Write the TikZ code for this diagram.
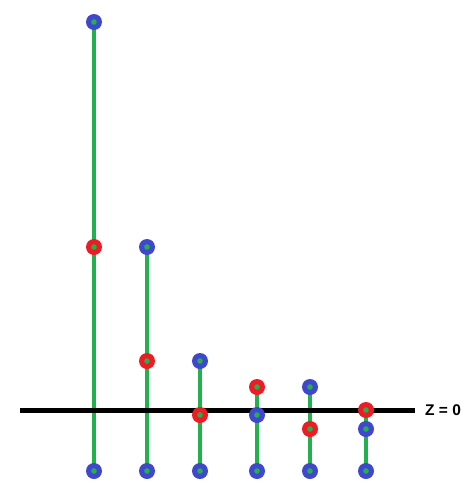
\documentclass[tikz,border=0pt]{standalone}
\usepackage{fontspec}
\setmainfont{Liberation Sans}
\definecolor{pblue}{RGB}{63,72,204}
\definecolor{pred}{RGB}{237,28,36}
\definecolor{pgreen}{RGB}{34,177,76}
\tikzset{
  stem/.style={draw=pgreen, line width=4.5pt},
  axisline/.style={draw=black, line width=5pt},
  bdot/.style={circle, fill=pblue, minimum size=16pt, inner sep=0pt, path picture={\fill[pgreen] (path picture bounding box.center) circle (2.8pt);}},
  rdot/.style={circle, fill=pred, minimum size=16pt, inner sep=0pt, path picture={\fill[pgreen] (path picture bounding box.center) circle (2.8pt);}},
}
\begin{document}
\begin{tikzpicture}[x=1pt,y=-1pt]
\useasboundingbox (0,0) rectangle (475,490);
% positions
\coordinate (a1) at (94,22);  \coordinate (a2) at (94,247);  \coordinate (a3) at (94,471);
\coordinate (b1) at (147,247); \coordinate (b2) at (147,361); \coordinate (b3) at (147,471);
\coordinate (c1) at (200,361); \coordinate (c2) at (200,415); \coordinate (c3) at (200,471);
\coordinate (d1) at (257,387); \coordinate (d2) at (257,415); \coordinate (d3) at (257,471);
\coordinate (e1) at (310,387); \coordinate (e2) at (310,429); \coordinate (e3) at (310,471);
\coordinate (f1) at (366,410); \coordinate (f2) at (366,429); \coordinate (f3) at (366,471);
% stems
\foreach \c in {a,b,c,d,e,f} { \draw[stem] (\c1) -- (\c3); }
% axis
\coordinate (L) at (20,410);
\node[font=\bfseries, inner sep=0pt, anchor=west] (zlab) at (425,410) {\fontsize{15.5}{17}\selectfont Z = 0};
\draw[axisline] (L) -- (415,410);
% markers
\node[bdot] (na1) at (a1) {}; \node[rdot] (na2) at (a2) {}; \node[bdot] (na3) at (a3) {};
\node[bdot] (nb1) at (b1) {}; \node[rdot] (nb2) at (b2) {}; \node[bdot] (nb3) at (b3) {};
\node[bdot] (nc1) at (c1) {}; \node[rdot] (nc2) at (c2) {}; \node[bdot] (nc3) at (c3) {};
\node[rdot] (nd1) at (d1) {}; \node[bdot] (nd2) at (d2) {}; \node[bdot] (nd3) at (d3) {};
\node[bdot] (ne1) at (e1) {}; \node[rdot] (ne2) at (e2) {}; \node[bdot] (ne3) at (e3) {};
\node[rdot] (nf1) at (f1) {}; \node[bdot] (nf2) at (f2) {}; \node[bdot] (nf3) at (f3) {};
\end{tikzpicture}
\end{document}
